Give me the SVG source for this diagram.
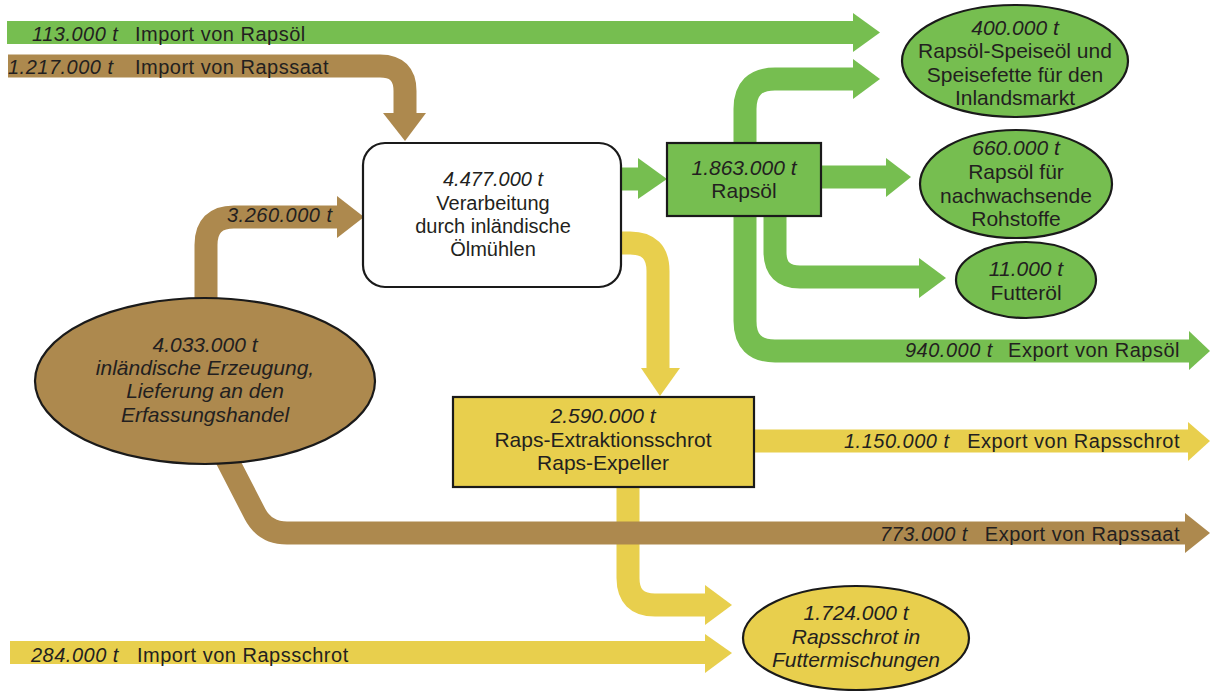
<svg xmlns="http://www.w3.org/2000/svg" width="1210" height="691" viewBox="0 0 1210 691">
<style>
.g{stroke:#76BE50;fill:none;stroke-width:23}
.b{stroke:#AD894E;fill:none;stroke-width:23}
.y{stroke:#E8CF4D;fill:none;stroke-width:23}
.gf{fill:#76BE50}
.bf{fill:#AD894E}
.yf{fill:#E8CF4D}
text{font-family:"Liberation Sans",Arial,sans-serif;fill:#231F20}
.lab{font-size:20px;letter-spacing:0.5px}
.num{font-style:italic}
.node{font-size:21px;text-anchor:middle}
.ol{stroke:#1A1A1A;stroke-width:2.2}
</style>
<g id="connectors">
  <!-- yellow -->
  <path class="y" d="M615 243 L630 243 Q658 243 658 271 L658 370"/>
  <polygon class="yf" points="641,368 680,368 660,396"/>
  <path class="y" d="M628 485 L628 578 Q628 605 655 605 L708 605"/>
  <polygon class="yf" points="705,585 705,625 732,605"/>
  <path class="y" d="M750 441 L1190 441"/>
  <polygon class="yf" points="1188,422 1188,461 1210,441"/>
  <path class="y" d="M10 652.5 L708 652.5"/>
  <polygon class="yf" points="705,634 705,673 732,653"/>
  <!-- brown -->
  <path class="b" d="M8 66 L380 66 Q405 66 405 91 L405 116"/>
  <polygon class="bf" points="383,113 426,113 405,141"/>
  <path class="b" d="M206 320 L206 245 Q206 217 234 217 L340 217"/>
  <polygon class="bf" points="337,196 337,238 364,217"/>
  <path class="b" d="M222 450 L255 514 Q265 533 287 533 L1188 533"/>
  <polygon class="bf" points="1185,513 1185,553 1210,533"/>
  <!-- green -->
  <path class="g" d="M7 32.5 L856 32.5"/>
  <polygon class="gf" points="853,13 853,52 880,32.5"/>
  <path class="g" d="M615 179 L641 179"/>
  <polygon class="gf" points="638,158 638,199 667,179"/>
  <path class="g" d="M856 79 L775 79 Q745 79 745 109 L745 321 Q745 351 775 351 L1192 351"/>
  <polygon class="gf" points="853,59 853,99 880,79"/>
  <polygon class="gf" points="1189,331 1189,370 1210,351"/>
  <path class="g" d="M815 177 L889 177"/>
  <polygon class="gf" points="886,158 886,197 911,177"/>
  <path class="g" d="M775 210 L775 252 Q775 277 800 277 L922 277"/>
  <polygon class="gf" points="919,258 919,298 946,278"/>
  <!-- labels -->
  <text class="lab" y="40.5"><tspan class="num" x="32">113.000 t</tspan><tspan x="135">Import von Rapsöl</tspan></text>
  <text class="lab" y="73.5"><tspan class="num" x="8">1.217.000 t</tspan><tspan x="135">Import von Rapssaat</tspan></text>
  <text class="lab num" x="227" y="222">3.260.000 t</text>
  <text class="lab num" x="905" y="357">940.000 t</text>
  <text class="lab" x="1180" y="357" text-anchor="end">Export von Rapsöl</text>
  <text class="lab num" x="844" y="448">1.150.000 t</text>
  <text class="lab" x="1180" y="448" text-anchor="end">Export von Rapsschrot</text>
  <text class="lab num" x="880" y="541">773.000 t</text>
  <text class="lab" x="1180" y="541" text-anchor="end">Export von Rapssaat</text>
  <text class="lab" y="662"><tspan class="num" x="31">284.000 t</tspan><tspan x="137">Import von Rapsschrot</tspan></text>
</g>
<g id="processing">
  <rect x="363" y="143" width="258" height="144" rx="22" fill="#FFFFFF" class="ol"/>
  <text class="node" style="font-size:20px" x="493"><tspan class="num" x="493" y="186">4.477.000 t</tspan><tspan x="493" y="210">Verarbeitung</tspan><tspan x="493" y="233">durch inländische</tspan><tspan x="493" y="256">Ölmühlen</tspan></text>
</g>
<g id="rapsoel">
  <rect x="667" y="143" width="154" height="73" class="gf ol"/>
  <text class="node" x="744"><tspan class="num" x="744" y="175">1.863.000 t</tspan><tspan x="744" y="198">Rapsöl</tspan></text>
</g>
<g id="speiseoel">
  <ellipse cx="1015" cy="61" rx="113" ry="56" class="gf ol"/>
  <text class="node" x="1015"><tspan class="num" x="1015" y="35">400.000 t</tspan><tspan x="1015" y="58">Rapsöl-Speiseöl und</tspan><tspan x="1015" y="82">Speisefette für den</tspan><tspan x="1015" y="105">Inlandsmarkt</tspan></text>
</g>
<g id="nachwachsend">
  <ellipse cx="1016" cy="184" rx="96" ry="54" class="gf ol"/>
  <text class="node" x="1016"><tspan class="num" x="1016" y="155">660.000 t</tspan><tspan x="1016" y="179">Rapsöl für</tspan><tspan x="1016" y="203">nachwachsende</tspan><tspan x="1016" y="226">Rohstoffe</tspan></text>
</g>
<g id="futteroel">
  <ellipse cx="1026" cy="280" rx="70" ry="38" class="gf ol"/>
  <text class="node" x="1026"><tspan class="num" x="1026" y="276">11.000 t</tspan><tspan x="1026" y="300">Futteröl</tspan></text>
</g>
<g id="erzeugung">
  <ellipse cx="205" cy="381" rx="170" ry="83" class="bf ol"/>
  <text class="node num" x="205"><tspan x="205" y="352">4.033.000 t</tspan><tspan x="205" y="375">inländische Erzeugung,</tspan><tspan x="205" y="398">Lieferung an den</tspan><tspan x="205" y="422">Erfassungshandel</tspan></text>
</g>
<g id="schrot">
  <rect x="453" y="397" width="301" height="90" class="yf ol"/>
  <text class="node" x="603"><tspan class="num" x="603" y="423">2.590.000 t</tspan><tspan x="603" y="447">Raps-Extraktionsschrot</tspan><tspan x="603" y="470">Raps-Expeller</tspan></text>
</g>
<g id="futtermischungen">
  <ellipse cx="856" cy="638" rx="113" ry="52" class="yf ol"/>
  <text class="node num" x="856"><tspan x="856" y="620">1.724.000 t</tspan><tspan x="856" y="644">Rapsschrot in</tspan><tspan x="856" y="667">Futtermischungen</tspan></text>
</g>
</svg>
